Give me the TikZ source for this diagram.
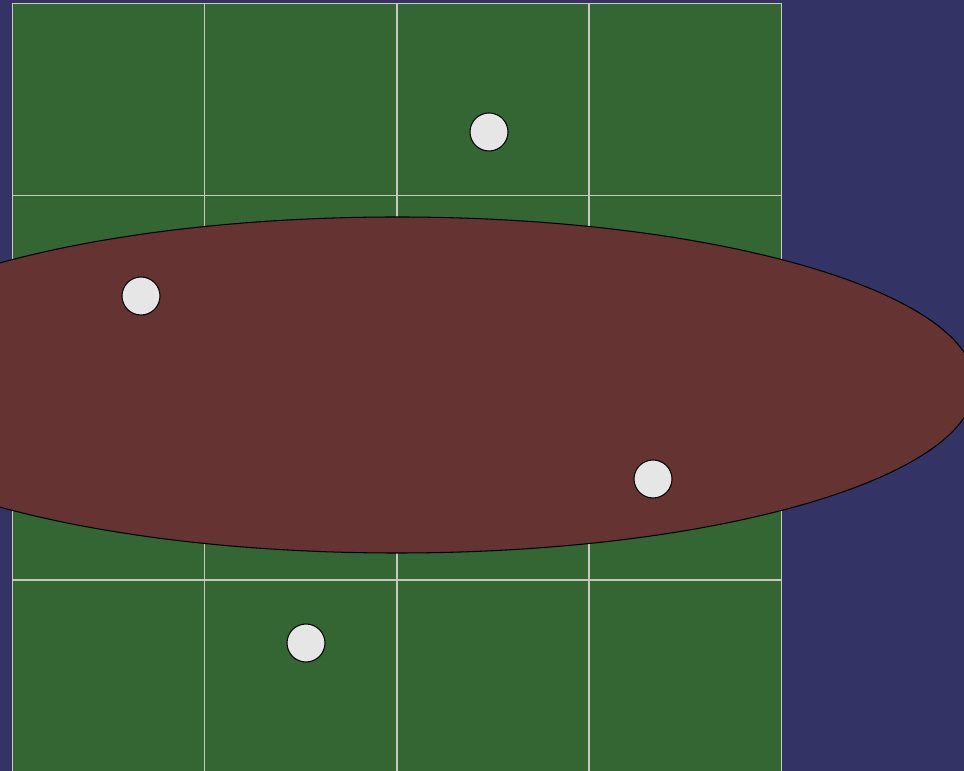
\documentclass[tikz,border=0pt]{standalone}
\usepackage{xcolor}
\definecolor{sceneback}{HTML}{333366}
\definecolor{scenefield}{HTML}{336633}
\definecolor{scenezone}{HTML}{663333}
\definecolor{sceneline}{HTML}{C8C8C0}
\definecolor{scenedot}{HTML}{E6E6E6}

\begin{document}
\begin{tikzpicture}[
  x=0.1mm,
  y=-0.1mm,
  dot/.style={circle, draw=black, line width=0.3pt, fill=scenedot,
    minimum size=3.8mm, inner sep=0pt}
]
  \useasboundingbox (0,0) rectangle (964,771);
  \fill[sceneback] (0,0) rectangle (964,771);
  \fill[scenefield] (12.5,3.5) rectangle (781,775);
  \foreach \gx in {12.5,204.7,396.9,589.1,781.3}
    \draw[sceneline, line width=0.4pt] (\gx,3.5) -- (\gx,775);
  \foreach \gy in {3.5,195.7,387.9,580.1}
    \draw[sceneline, line width=0.4pt] (12.5,\gy) -- (781.3,\gy);

  \def\zoneA{(397,385) ellipse (578 and 168)}
  \path[fill=scenezone] \zoneA;
  \draw[black, line width=0.3pt] \zoneA;

  \node[dot] (d1) at (489,132) {};
  \node[dot] (d2) at (141,296) {};
  \node[dot] (d3) at (653,479) {};
  \node[dot] (d4) at (306,643) {};
\end{tikzpicture}
\end{document}
